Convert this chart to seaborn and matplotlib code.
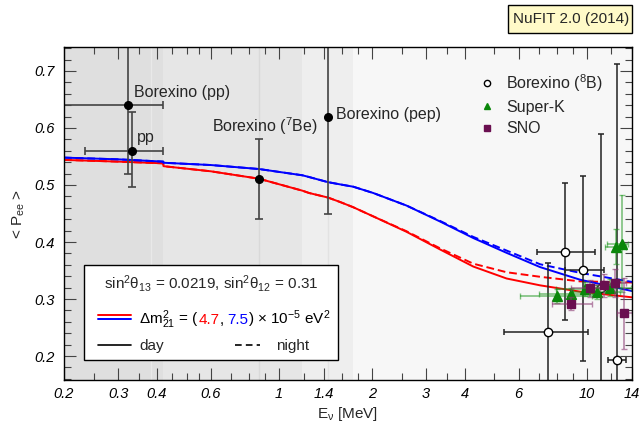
import numpy as np
import pandas as pd
import matplotlib
matplotlib.use('Agg')
import matplotlib.pyplot as plt
import seaborn as sns
from matplotlib.lines import Line2D
from matplotlib.patches import Rectangle
from matplotlib.ticker import NullFormatter

# ---- survival probability curves ----
E_red = [0.2, 0.3, 0.42, 0.421, 0.6, 0.86, 1.19, 1.25, 1.44, 1.58, 1.74, 2.02, 2.59, 3.33, 4.27, 5.48, 7.04, 9.48, 14]
P_red_day = [0.544, 0.541, 0.538, 0.533, 0.524, 0.511, 0.490, 0.486, 0.478, 0.470, 0.461, 0.445, 0.418, 0.387, 0.357, 0.336, 0.324, 0.313, 0.303]
P_red_night = [0.544, 0.541, 0.538, 0.533, 0.524, 0.511, 0.490, 0.486, 0.478, 0.470, 0.461, 0.445, 0.419, 0.389, 0.362, 0.347, 0.339, 0.331, 0.329]
E_blue = [0.2, 0.3, 0.42, 0.421, 0.6, 0.86, 1.19, 1.25, 1.44, 1.58, 1.74, 2.02, 2.59, 3.33, 4.27, 5.48, 7.04, 9.48, 14]
P_blue_day = [0.548, 0.545, 0.541, 0.539, 0.535, 0.528, 0.517, 0.514, 0.505, 0.501, 0.497, 0.486, 0.464, 0.436, 0.407, 0.381, 0.356, 0.334, 0.314]
P_blue_night = [0.548, 0.545, 0.541, 0.539, 0.535, 0.528, 0.517, 0.514, 0.505, 0.501, 0.497, 0.486, 0.464, 0.437, 0.409, 0.385, 0.361, 0.346, 0.330]

# ---- Borexino low energy points ----
bx_E = [0.322, 0.333, 0.862, 1.44]
bx_P = [0.64, 0.56, 0.51, 0.62]
bx_yerr_lo = [0.12, 0.064, 0.07, 0.17]
bx_yerr_hi = [0.12, 0.068, 0.07, 0.17]
bx_E_lo = [0.19, 0.234, 0.862, 1.44]
bx_E_hi = [0.42, 0.42, 0.862, 1.44]
bx_names = ['Borexino (pp)', 'pp', 'Borexino ($^7$Be)', 'Borexino (pep)']

# ---- Borexino 8B ----
b8_E = [7.48, 8.48, 9.72, 11.07, 12.48]
b8_P = [0.243, 0.383, 0.351, 0.32, 0.193]
b8_E_lo = [5.37, 6.9, 8.48, 11.07, 11.7]
b8_E_hi = [10.1, 10.6, 11.35, 11.07, 13.4]
b8_yerr_lo = [0.12, 0.12, 0.16, 0.27, 0.2]
b8_yerr_hi = [0.12, 0.12, 0.165, 0.27, 0.52]

# ---- Super-K ----
sk_E = [8.0, 8.85, 9.84, 10.8, 11.87, 12.4, 12.96]
sk_P = [0.305, 0.308, 0.318, 0.312, 0.320, 0.392, 0.397]
sk_E_lo = [6.05, 7.0, 7.9, 9.0, 10.0, 11.4, 11.6]
sk_E_hi = [10.4, 10.5, 11.6, 12.8, 13.9, 13.4, 13.6]
sk_yerr = [0.012, 0.012, 0.012, 0.012, 0.015, 0.03, 0.085]

# ---- SNO ----
sno_E = [8.87, 10.22, 11.35, 12.3, 13.2]
sno_P = [0.292, 0.319, 0.324, 0.328, 0.275]
sno_E_lo = [7.67, 8.9, 10.4, 11.3, 12.5]
sno_E_hi = [10.36, 11.0, 12.4, 13.4, 14.0]
sno_yerr = [0.012, 0.015, 0.02, 0.025, 0.062]

x_major = [0.2, 0.3, 0.4, 0.6, 1, 1.4, 2, 3, 4, 6, 10, 14]
x_major_labels = ['0.2', '0.3', '0.4', '0.6', '1', '1.4', '2', '3', '4', '6', '10', '14']
x_minor = [0.25, 0.35, 0.45, 0.5, 0.55, 0.7, 0.8, 0.9, 1.2, 1.6, 1.8, 2.5, 3.5, 5, 7, 8, 9, 12]

sns.set_theme(style='ticks', rc={
    'xtick.direction': 'in', 'ytick.direction': 'in',
    'xtick.top': True, 'ytick.right': True,
    'xtick.major.size': 8.5, 'ytick.major.size': 8.5,
    'xtick.minor.size': 5, 'ytick.minor.size': 5,
    'xtick.major.width': 0.8, 'ytick.major.width': 0.8,
    'xtick.minor.width': 0.8, 'ytick.minor.width': 0.8,
    'xtick.color': '#444444', 'ytick.color': '#444444',
    'xtick.labelcolor': 'black', 'ytick.labelcolor': 'black',
    'axes.edgecolor': 'black', 'axes.linewidth': 1.0,
})
plt.rcParams['font.family'] = ['Liberation Sans', 'DejaVu Sans']
plt.rcParams['mathtext.fontset'] = 'custom'
plt.rcParams['mathtext.rm'] = 'Liberation Sans'
plt.rcParams['mathtext.it'] = 'Liberation Sans:italic'
plt.rcParams['mathtext.default'] = 'regular'

fig = plt.figure(figsize=(6.41, 4.22), dpi=100)
ax = fig.add_axes([64 / 641, 42 / 422, 568 / 641, 333 / 422])
ax.set_xscale('log')
ax.set_xlim(0.2, 14)
ax.set_ylim(0.158, 0.742)
ax.set_facecolor('#f7f7f7')

# energy bands of the low-energy fluxes
ax.axvspan(0.15, 0.42, color='#dfdfdf', lw=0, zorder=0)
ax.axvspan(0.42, 1.19, color='#e6e6e6', lw=0, zorder=0)
ax.axvspan(1.19, 1.74, color='#eeeeee', lw=0, zorder=0)
ax.axvline(0.384, color='#e9e9e9', lw=1, zorder=0.5)
ax.axvline(0.862, color='#d9d9d9', lw=1, zorder=0.5)
ax.axvline(1.44, color='#e2e2e2', lw=1, zorder=0.5)

# curves
curves = pd.concat([
    pd.DataFrame({'E': E_red, 'P': P_red_day, 'dm': '4.7', 'time': 'day'}),
    pd.DataFrame({'E': E_red, 'P': P_red_night, 'dm': '4.7', 'time': 'night'}),
    pd.DataFrame({'E': E_blue, 'P': P_blue_day, 'dm': '7.5', 'time': 'day'}),
    pd.DataFrame({'E': E_blue, 'P': P_blue_night, 'dm': '7.5', 'time': 'night'}),
])
sns.lineplot(data=curves, x='E', y='P', hue='dm', style='time',
             palette={'4.7': 'red', '7.5': 'blue'},
             dashes={'day': '', 'night': (4, 2)},
             estimator=None, sort=False, legend=False, lw=1.4, ax=ax, zorder=2)

# Borexino low energy
bx_E_arr = np.array(bx_E)
ax.errorbar(bx_E, bx_P,
            xerr=[bx_E_arr - np.array(bx_E_lo), np.array(bx_E_hi) - bx_E_arr],
            yerr=[bx_yerr_lo, bx_yerr_hi], fmt='o', color='black', ms=5.5,
            ecolor='#444444', elinewidth=1.2, capsize=3, capthick=1.2, zorder=5)
ax.text(0.338, 0.663, bx_names[0], fontsize=11.5, va='center', ha='left', zorder=6)
ax.text(0.344, 0.583, bx_names[1], fontsize=11.5, va='center', ha='left', zorder=6)
ax.text(0.605, 0.603, bx_names[2], fontsize=11.5, va='center', ha='left', zorder=6)
ax.text(1.526, 0.624, bx_names[3], fontsize=11.5, va='center', ha='left', zorder=6)

# Borexino 8B
b8 = np.array(b8_E)
ax.errorbar(b8_E, b8_P, xerr=[b8 - np.array(b8_E_lo), np.array(b8_E_hi) - b8],
            yerr=[b8_yerr_lo, b8_yerr_hi], fmt='o', mfc='white', mec='black', ms=6,
            ecolor='#222222', elinewidth=1.1, capsize=2.5, capthick=1.1, zorder=3)

# Super-K
sk = np.array(sk_E)
ax.errorbar(sk_E, sk_P, xerr=[sk - np.array(sk_E_lo), np.array(sk_E_hi) - sk],
            yerr=sk_yerr, fmt='none', ecolor='#1a941a', alpha=0.55,
            elinewidth=1.2, capsize=2.5, zorder=3.5)
ax.plot(sk_E, sk_P, '^', color='#0a870a', ms=6.5, zorder=4)

# SNO
sn = np.array(sno_E)
ax.errorbar(sno_E, sno_P, xerr=[sn - np.array(sno_E_lo), np.array(sno_E_hi) - sn],
            yerr=sno_yerr, fmt='none', ecolor='#8a3a72', alpha=0.6,
            elinewidth=1.2, capsize=2.5, zorder=4.05)
ax.plot(sno_E, sno_P, 's', color='#6a0f50', ms=6, zorder=4.1)

# ticks
ax.set_xticks(x_major, x_major_labels)
ax.set_xticks(x_minor, minor=True)
ax.xaxis.set_minor_formatter(NullFormatter())
ax.set_yticks([0.2, 0.3, 0.4, 0.5, 0.6, 0.7])
ax.set_yticks(np.arange(0.16, 0.741, 0.02), minor=True)
ax.tick_params(axis='both', which='major', labelsize=10.5, pad=5)
ax.tick_params(axis='y', which='major', pad=7)
ax.set_xlabel('E$_ν$ [MeV]', fontsize=11, labelpad=3)
ax.set_ylabel('< P$_{ee}$ >', fontsize=11, labelpad=5)
for s in ax.spines.values():
    s.set_zorder(10)

# data legend (upper right)
handles = [
    Line2D([], [], ls='none', marker='o', mfc='white', mec='black', ms=4.5),
    Line2D([], [], ls='none', marker='^', color='#0a870a', ms=4.5),
    Line2D([], [], ls='none', marker='s', color='#6a0f50', ms=4.5),
]
ax.legend(handles, ['Borexino ($^8$B)', 'Super-K', 'SNO'], loc='upper left',
          bbox_to_anchor=(0.731, 0.925), frameon=False, fontsize=11.5,
          handlelength=1.0, handletextpad=0.7, borderpad=0, borderaxespad=0,
          labelspacing=0.4)

# parameter box (lower left)
ax.add_patch(Rectangle((0.0352, 0.060), 0.447, 0.285, transform=ax.transAxes,
                       fc='white', ec='black', lw=1.0, zorder=8))
ax.text(0.2588, 0.291, 'sin$^2$θ$_{13}$ = 0.0219, sin$^2$θ$_{12}$ = 0.31',
        transform=ax.transAxes, ha='center', va='center', fontsize=11, zorder=9)
ax.plot([0.0599, 0.118], [0.195, 0.195], color='red', lw=1.4, transform=ax.transAxes, zorder=9)
ax.plot([0.0599, 0.118], [0.183, 0.183], color='blue', lw=1.4, transform=ax.transAxes, zorder=9)
ax.plot([0.0599, 0.118], [0.105, 0.105], color='black', lw=1.2, transform=ax.transAxes, zorder=9)
ax.plot([0.301, 0.345], [0.105, 0.105], color='black', lw=1.2, ls=(0, (4, 2.5)),
        transform=ax.transAxes, zorder=9)

renderer = fig.canvas.get_renderer()
ax_w = ax.get_window_extent(renderer).width


def rich_text(x, y, parts):
    for s, c in parts:
        t = ax.text(x, y, s, color=c, transform=ax.transAxes, va='baseline',
                    ha='left', fontsize=11, zorder=9)
        x += t.get_window_extent(renderer).width / ax_w


rich_text(0.132, 0.168, [('Δm$^2_{21}$ = (', 'black'), ('4.7', 'red'), (',\u2009', 'black'),
                         ('7.5', 'blue'), (') × 10$^{-5}$ eV$^2$', 'black')])
ax.text(0.132, 0.09, 'day', transform=ax.transAxes, va='baseline', fontsize=11, zorder=9)
ax.text(0.373, 0.09, 'night', transform=ax.transAxes, va='baseline', fontsize=11, zorder=9)

# NuFIT tag
fig.patches.append(Rectangle((508 / 641, 389 / 422), 124 / 641, 28 / 422,
                             transform=fig.transFigure, fc='#fffac8', ec='black', lw=1))
fig.text(571 / 641, 403 / 422, 'NuFIT 2.0 (2014)', ha='center', va='center', fontsize=11)

# italic tick labels (after a draw so all tick objects exist)
fig.canvas.draw()
for lab in ax.get_xticklabels() + ax.get_yticklabels():
    lab.set_fontstyle('italic')

fig.savefig('out.png', dpi=100)
